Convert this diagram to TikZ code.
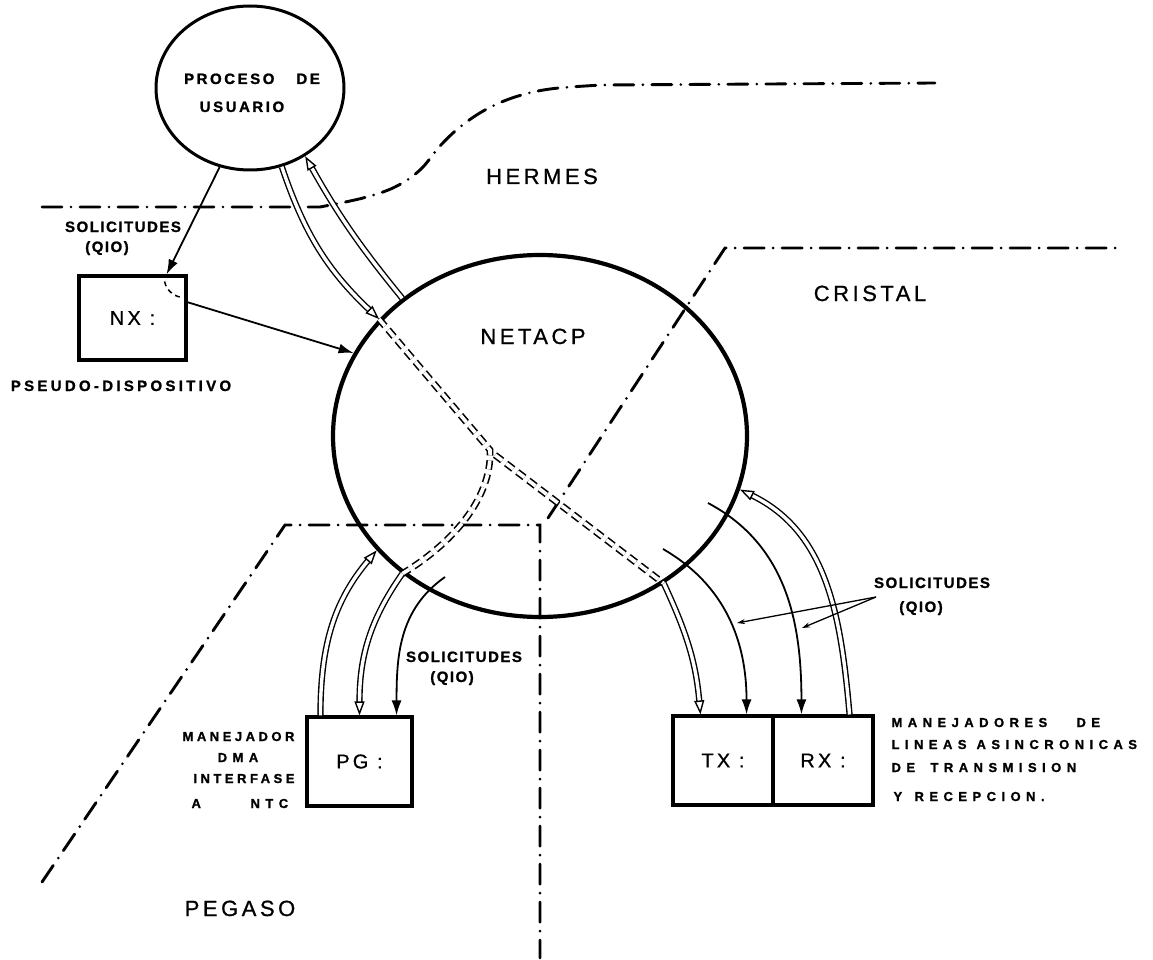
\documentclass[tikz,border=0pt]{standalone}
\usepackage{fontspec}
\setmainfont{Liberation Sans}
\newfontfamily\lsA[LetterSpace=10,FakeBold=1.2]{Liberation Sans Bold}
\newfontfamily\lsB[LetterSpace=17,FakeBold=1.2]{Liberation Sans Bold}
\newfontfamily\lsC[LetterSpace=22,FakeBold=1.2]{Liberation Sans Bold}
\newfontfamily\lsP[LetterSpace=27,FakeBold=1.2]{Liberation Sans Bold}
\newfontfamily\lsW[LetterSpace=42,FakeBold=1.2]{Liberation Sans Bold}
\newfontfamily\lsBig[LetterSpace=16,FakeBold=0.8]{Liberation Sans}
\usetikzlibrary{arrows.meta,shapes.geometric}

\tikzset{
  bound/.style={line width=2.9pt, line cap=round, dash pattern=on 20pt off 9pt on 0pt off 9pt},
  procshape/.style={ellipse, draw, line width=3pt, minimum width=188pt, minimum height=164pt, inner sep=0pt},
  netshape/.style={ellipse, draw, line width=4.2pt, minimum width=414pt, minimum height=362pt, inner sep=0pt},
  box/.style={rectangle, draw, line width=3.1pt, inner sep=0pt, font=\lsBig\fontsize{20}{22}\selectfont},
  region/.style={anchor=base, font=\lsBig\fontsize{22}{24}\selectfont},
  tag/.style={anchor=base, font=\lsB\fontsize{15}{17}\selectfont},
  tagn/.style={anchor=base, font=\lsA\fontsize{15}{17}\selectfont},
  tagw/.style={anchor=base, font=\lsC\fontsize{15}{17}\selectfont},
  tagpg/.style={anchor=base, font=\lsP\fontsize{13}{15}\selectfont},
  tagpgw/.style={anchor=base, font=\lsW\fontsize{13}{15}\selectfont},
  tagrx/.style={anchor=base west, font=\lsW\fontsize{13}{15}\selectfont},
  sarrow/.style={line width=1.8pt, -{Latex[length=15pt,width=10pt]}},
  harrow/.style={double, double distance=3.4pt, line width=1.4pt,
    -{Triangle[open, length=14pt, width=10pt, line width=1.4pt]}},
  dline/.style={double, double distance=3.6pt, line width=1.6pt, dash pattern=on 9pt off 5pt},
  leader/.style={line width=1.3pt, -{Stealth[length=8pt,width=5pt]}},
}

\begin{document}
\begin{tikzpicture}[x=1pt,y=-1pt]
\useasboundingbox (0,0) rectangle (1153,960);

% region boundaries
\draw[bound] (42,207) -- plot[smooth, tension=0.6] coordinates {(320,207) (363,198) (395,187) (420,170) (440,146) (460,127) (485,110) (515,97) (550,89) (602,85)} -- (935,83);
\draw[bound] (548,518) -- (725,248) -- (1120,248);
\draw[bound] (42,882) -- (285,525) -- (540,525) -- (540,958);

% main shapes
\node[procshape] (proc) at (250,88) {};
\node[netshape] (net) at (540,436) {};
\node[box, minimum width=107pt, minimum height=84pt] (nx) at (132.5,318) {NX :};
\node[box, minimum width=105pt, minimum height=89pt] (pg) at (359.5,761.5) {PG :};
\node[box, minimum width=100pt, minimum height=89pt] (tx) at (723,760.5) {TX :};
\node[box, minimum width=100pt, minimum height=89pt] (rx) at (823,760.5) {RX :};

% texts
\node[tag] (proclbl) at (252,84) {PROCESO\hspace{22pt}DE};
\node[tag] (usulbl) at (242,112) {USUARIO};
\node[region] (netlbl) at (533,344) {NETACP};
\node[region] (hermes) at (542,184) {HERMES};
\node[region] (cristal) at (870,301) {CRISTAL};
\node[region] (pegaso) at (240,916) {PEGASO};
\node[tagn] (solA) at (123,232) {SOLICITUDES};
\node[tagn] (qioA) at (107,252) {(QIO)};
\node[tagw] (pseudo) at (121,391) {PSEUDO-DISPOSITIVO};
\node[tagn] (solP) at (464,662) {SOLICITUDES};
\node[tagn] (qioP) at (452,682) {(QIO)};
\node[tagn] (solR) at (932,588) {SOLICITUDES};
\node[tagn] (qioR) at (921,612) {(QIO)};
\node[tagpg, anchor=base east] (manA) at (298,741) {MANEJADOR};
\node[tagpgw] (dma) at (238,762) {DMA};
\node[tagpg, anchor=base east] (inter) at (298,783) {INTERFASE};
\node[tagpgw, anchor=base west] (ntc) at (188,808) {\rlap{A}\hspace{59pt}NTC};
\node[tagrx] (rxA) at (888,727) {\rlap{MANEJADORES}\hspace{185pt}DE};
\node[tagrx] (rxB) at (888,749) {\rlap{LINEAS}\hspace{85pt}ASINCRONICAS};
\node[tagrx] (rxC) at (888,772) {\rlap{DE}\hspace{39pt}TRANSMISION};
\node[tagrx] (rxD) at (890,801) {\rlap{Y}\hspace{21pt}RECEPCION.};

% free ends of connectors
\coordinate (xing) at (490,450);
\coordinate (xing2) at (495,455);
\coordinate (pgs) at (445,577);
\coordinate (txs) at (663,549);
\coordinate (rxs) at (708,503);
\coordinate (lead) at (876,597);
\coordinate (leadA) at (737,623);
\coordinate (leadB) at (802,628);

% user process <-> NX <-> NETACP
\draw[sarrow] (proc.249) -- (nx.52);
\draw[line width=1.5pt, dash pattern=on 5pt off 4pt] ([shift={(-23,7)}]nx.north east) .. controls +(2,10) and +(-8,0) .. ([shift={(-4,23)}]nx.north east);
\draw[sarrow] (nx.16) -- (net.156);
\draw[harrow] (proc.292) to[bend right=14] (net.144);
\draw[harrow] (net.135) to[bend left=5] (proc.309);

% dashed paths through NETACP
\draw[dline] (net.144) -- (xing) .. controls (492,500) and (450,545) .. (net.225);
\draw[dline] (xing2) -- (net.310);

% NETACP <-> PG
\draw[harrow] (net.225) to[out=235, in=90] (pg.north);
\draw[harrow] ([xshift=15pt]pg.north west) to[out=90, in=230] (net.215);
\draw[sarrow] (pgs) to[out=215, in=90] ([xshift=-17pt]pg.north east);

% NETACP <-> TX / RX
\draw[harrow] (net.310) to[out=295, in=95] ([xshift=29pt]tx.north west);
\draw[sarrow] (txs) to[out=330, in=90] ([xshift=-28pt]tx.north east);
\draw[sarrow] (rxs) to[out=332, in=90] ([xshift=30pt]rx.north west);
\draw[harrow] ([xshift=-25pt]rx.north east) to[out=95, in=334] (net.345);

% leaders of the right label
\draw[leader] (lead) -- (leadA);
\draw[leader] (lead) -- (leadB);
\end{tikzpicture}
\end{document}
